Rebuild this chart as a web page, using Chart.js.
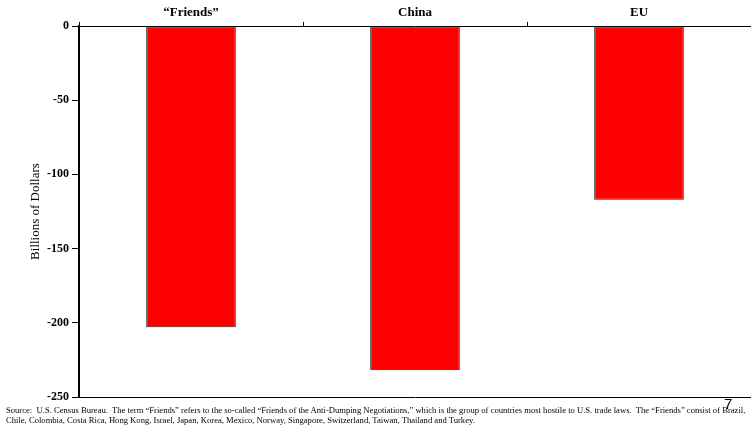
<!DOCTYPE html>
<html>
<head>
<meta charset="utf-8">
<script src="https://cdn.jsdelivr.net/npm/chart.js@4"></script>
<style>
  body { margin:0; background:#fff; }
  #wrap { position:relative; width:751px; height:431px; }
  canvas { position:absolute; left:0; top:0; }
  .note { position:absolute; left:6px; font-family:"Liberation Serif",serif; font-size:8.6px; line-height:10px; white-space:nowrap; color:#000; }
  #page { position:absolute; left:724px; top:396px; z-index:2; font-family:"Liberation Sans",sans-serif; font-size:15px; line-height:15px; color:#000; }
</style>
</head>
<body>
<div id="wrap">
  <canvas id="c" width="751" height="431"></canvas>
  <div class="note" style="top:405px">Source:&nbsp; U.S. Census Bureau.&nbsp; The term “Friends” refers to the so-called “Friends of the Anti-Dumping Negotiations,” which is the group of countries most hostile to U.S. trade laws.&nbsp; The “Friends” consist of Brazil,</div>
  <div class="note" style="top:415px">Chile, Colombia, Costa Rica, Hong Kong, Israel, Japan, Korea, Mexico, Norway, Singapore, Switzerland, Taiwan, Thailand and Turkey.</div>
  <div id="page">7</div>
</div>
<script>
// chart values
const groups = ["“Friends”", "China", "EU"];
const balance = [-203, -232, -117];
const yTicks = [0, -50, -100, -150, -200, -250];

new Chart(document.getElementById("c"), {
  type: "bar",
  data: {
    labels: groups,
    datasets: [{
      data: balance,
      backgroundColor: "#ff0000",
      borderColor: "#222",
      borderWidth: 1,
      borderSkipped: false,
      barPercentage: 0.4,
      categoryPercentage: 1
    }]
  },
  options: {
    responsive: false,
    animation: false,
    layout: { padding: { bottom: 34, right: 0 } },
    plugins: { legend: { display: false }, tooltip: { enabled: false } },
    scales: {
      x: {
        position: "top",
        grid: { drawOnChartArea: false, tickLength: 4, tickColor: "#000", offset: true },
        border: { color: "#000", width: 1 },
        ticks: { color: "#000", padding: 2, font: { family: "Liberation Serif", size: 13, weight: "bold" } },
        afterFit: s => { s.height = 26; }
      },
      y: {
        min: -250, max: 0,
        afterBuildTicks: s => { s.ticks = yTicks.map(v => ({ value: v })); },
        grid: {
          color: c => c.tick && c.tick.value === -250 ? "#000" : "rgba(0,0,0,0)",
          tickColor: "#000", tickLength: 7
        },
        border: { color: "#000", width: 2 },
        ticks: { color: "#000", padding: 3, font: { family: "Liberation Serif", size: 12, weight: "bold" } },
        title: { display: true, text: "Billions of Dollars", color: "#000", padding: { top: 28, bottom: 0 }, font: { family: "Liberation Serif", size: 13 } },
        afterFit: s => { s.width = 79; }
      }
    }
  }
});
</script>
</body>
</html>
